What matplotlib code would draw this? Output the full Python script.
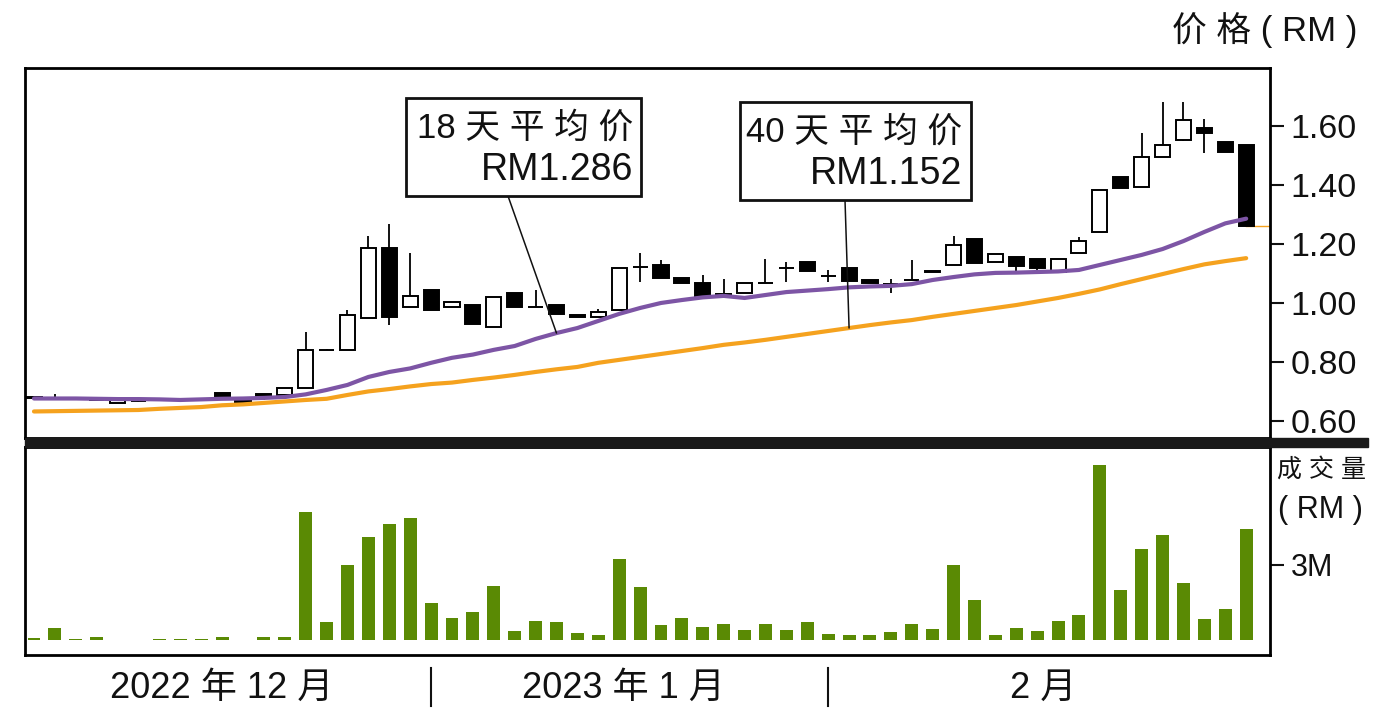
import numpy as np
import matplotlib
matplotlib.use("Agg")
import matplotlib.pyplot as plt
from matplotlib.patches import Rectangle, ConnectionPatch
import matplotlib.transforms as mtransforms

plt.rcParams['font.family'] = ['Liberation Sans', 'Noto Sans CJK SC', 'DejaVu Sans']

# daily candles (RM)
opens = [0.680, 0.678, 0.676, 0.671, 0.662, 0.668, 0.675, 0.670, 0.675, 0.694,
         0.671, 0.692, 0.688, 0.712, 0.841, 0.841, 0.948, 1.188, 0.987, 1.044,
         0.988, 0.993, 0.918, 1.033, 0.988, 0.993, 0.959, 0.954, 0.976, 1.123,
         1.129, 1.084, 1.069, 1.027, 1.033, 1.069, 1.118, 1.138, 1.092, 1.118,
         1.078, 1.064, 1.079, 1.105, 1.129, 1.216, 1.138, 1.157, 1.148, 1.106,
         1.169, 1.242, 1.426, 1.392, 1.496, 1.553, 1.594, 1.547, 1.536]
highs = [0.683, 0.690, 0.678, 0.673, 0.674, 0.672, 0.677, 0.674, 0.677, 0.694,
         0.671, 0.692, 0.711, 0.902, 0.843, 0.976, 1.227, 1.268, 1.170, 1.044,
         1.003, 0.993, 1.021, 1.033, 1.045, 0.993, 0.959, 0.979, 1.118, 1.168,
         1.146, 1.084, 1.095, 1.080, 1.069, 1.148, 1.140, 1.138, 1.112, 1.118,
         1.078, 1.083, 1.147, 1.107, 1.227, 1.216, 1.165, 1.157, 1.148, 1.148,
         1.225, 1.383, 1.426, 1.575, 1.680, 1.680, 1.623, 1.547, 1.536]
lows = [0.677, 0.670, 0.674, 0.666, 0.661, 0.664, 0.673, 0.666, 0.673, 0.683,
        0.661, 0.672, 0.688, 0.712, 0.839, 0.841, 0.948, 0.925, 0.987, 0.976,
        0.988, 0.928, 0.918, 0.988, 0.988, 0.963, 0.954, 0.954, 0.976, 1.072,
        1.084, 1.067, 1.022, 1.025, 1.033, 1.069, 1.072, 1.107, 1.072, 1.075,
        1.067, 1.034, 1.079, 1.105, 1.129, 1.137, 1.138, 1.103, 1.110, 1.106,
        1.169, 1.242, 1.391, 1.392, 1.496, 1.550, 1.510, 1.513, 1.261]
closes = [0.679, 0.679, 0.676, 0.670, 0.671, 0.668, 0.675, 0.670, 0.675, 0.683,
          0.661, 0.685, 0.711, 0.841, 0.841, 0.959, 1.188, 0.951, 1.024, 0.976,
          1.003, 0.928, 1.021, 0.988, 0.988, 0.963, 0.954, 0.968, 1.118, 1.123,
          1.084, 1.067, 1.022, 1.029, 1.069, 1.069, 1.118, 1.107, 1.092, 1.075,
          1.067, 1.064, 1.079, 1.107, 1.197, 1.137, 1.165, 1.126, 1.118, 1.148,
          1.210, 1.383, 1.391, 1.494, 1.535, 1.620, 1.578, 1.513, 1.261]

ma18 = [0.676, 0.676, 0.676, 0.675, 0.674, 0.674, 0.673, 0.671, 0.673, 0.675,
        0.676, 0.678, 0.681, 0.690, 0.705, 0.722, 0.749, 0.766, 0.778, 0.797,
        0.814, 0.825, 0.841, 0.854, 0.878, 0.898, 0.915, 0.939, 0.963, 0.983,
        1.000, 1.010, 1.019, 1.024, 1.017, 1.027, 1.037, 1.042, 1.047, 1.053,
        1.056, 1.058, 1.064, 1.078, 1.088, 1.097, 1.102, 1.103, 1.105, 1.107,
        1.112, 1.129, 1.146, 1.163, 1.183, 1.210, 1.241, 1.270, 1.286]
ma40 = [0.632, 0.633, 0.634, 0.635, 0.636, 0.637, 0.641, 0.644, 0.647, 0.653,
        0.656, 0.661, 0.666, 0.671, 0.675, 0.688, 0.700, 0.708, 0.717, 0.725,
        0.730, 0.739, 0.747, 0.756, 0.766, 0.775, 0.783, 0.797, 0.807, 0.817,
        0.827, 0.837, 0.847, 0.858, 0.866, 0.875, 0.885, 0.895, 0.905, 0.915,
        0.925, 0.934, 0.942, 0.953, 0.963, 0.973, 0.983, 0.993, 1.005, 1.017,
        1.031, 1.046, 1.064, 1.081, 1.098, 1.115, 1.131, 1.142, 1.152]

# volume (million RM)
volume = [0.07, 0.47, 0.05, 0.12, 0.0, 0.0, 0.05, 0.05, 0.05, 0.12,
          0.0, 0.12, 0.12, 5.11, 0.71, 3.00, 4.11, 4.64, 4.87, 1.47,
          0.89, 1.12, 2.17, 0.36, 0.76, 0.71, 0.29, 0.19, 3.24, 2.12,
          0.60, 0.89, 0.53, 0.65, 0.41, 0.65, 0.41, 0.72, 0.25, 0.19,
          0.19, 0.31, 0.65, 0.43, 3.00, 1.59, 0.19, 0.47, 0.36, 0.76,
          1.00, 7.00, 2.00, 3.64, 4.21, 2.29, 0.83, 1.24, 4.45]

price_ticks = [0.60, 0.80, 1.00, 1.20, 1.40, 1.60]
month_labels = ['2022 年 12 月', '2023 年 1 月', '2 月']
month_starts = [19, 38]

W, H = 1380, 715
fig = plt.figure(figsize=(W / 100, H / 100), dpi=100)

def box(l, t, r, b):
    return [l / W, 1 - b / H, (r - l) / W, (b - t) / H]

ax = fig.add_axes(box(25, 68, 1270, 438))
axv = fig.add_axes(box(25, 447, 1270, 655))

x = np.arange(len(opens))
o = np.array(opens)
c = np.array(closes)
up = c >= o
xlim = (-0.43, 59.14)

ax.vlines(x, lows, highs, color='black', linewidth=1.3, zorder=1)
ax.bar(x, np.abs(c - o), bottom=np.minimum(o, c), width=0.72,
       color=np.where(up, 'white', 'black'), edgecolor='black',
       linewidth=1.4, zorder=2)
ax.plot(x, ma18, color='#7d55a5', linewidth=3, zorder=3, solid_capstyle='round')
ax.plot(x, ma40, color='#f5a21e', linewidth=3, zorder=3, solid_capstyle='round')
ax.plot([x[-1], xlim[1]], [closes[-1], closes[-1]], color='#f5a21e', linewidth=1, zorder=1)

ax.set_xlim(xlim)
ax.set_ylim(0.542, 1.797)
ax.set_xticks([])
ax.yaxis.tick_right()
ax.set_yticks(price_ticks)
ax.set_yticklabels(['%.2f' % v for v in price_ticks])
ax.tick_params(axis='y', direction='out', length=10, width=1.5, pad=5,
               labelsize=24.5, colors='#111111')
for s in ax.spines.values():
    s.set_linewidth(2)

axv.bar(x, volume, width=0.62, color='#5a8a04', zorder=2)
axv.set_xlim(xlim)
axv.set_ylim(-0.6, 7.72)
axv.set_xticks([])
axv.yaxis.tick_right()
axv.set_yticks([3])
axv.set_yticklabels(['3M'])
axv.tick_params(axis='y', direction='out', length=10, width=1.5, pad=5,
                labelsize=22, colors='#111111')
for s in axv.spines.values():
    s.set_linewidth(2)

# thick separator bar
fig.add_artist(Rectangle((25 / W, 1 - 447 / H), (1368 - 25) / W, 9 / H,
                         transform=fig.transFigure, color='#1a1a1a'))

def ftext(px, py, s, **kw):
    fig.text(px / W, 1 - py / H, s, **kw)

ftext(1357, 30, '价 格 ( RM )', ha='right', va='center', fontsize=25, color='#111111')
ftext(1366, 470, '成 交 量', ha='right', va='center', fontsize=18, color='#111111')
ftext(1363, 510, '( RM )', ha='right', va='center', fontsize=22, color='#111111')

# MA annotation boxes
boxes = [((406, 98, 641, 196), 633, '18 天 平 均 价', 'RM%.3f' % ma18[-1], 508, 25, ma18),
         ((740, 102, 971, 200), 962, '40 天 平 均 价', 'RM%.3f' % ma40[-1], 845, 39, ma40)]
for (l, t, r, b), tx, l1, l2, lx, idx, ser in boxes:
    fig.add_artist(Rectangle((l / W, 1 - b / H), (r - l) / W, (b - t) / H,
                             transform=fig.transFigure, facecolor='white',
                             edgecolor='#111111', linewidth=2, zorder=5))
    ftext(tx, t + 30, l1, ha='right', va='center', fontsize=25, color='#111111', zorder=6)
    ftext(tx, t + 72, l2, ha='right', va='center', fontsize=27, color='#111111', zorder=6)
    con = ConnectionPatch(xyA=(lx / W, 1 - b / H), coordsA=fig.transFigure,
                          xyB=(idx, ser[idx]), coordsB=ax.transData,
                          color='#111111', linewidth=1.1, zorder=4)
    fig.add_artist(con)

# month labels and separators below the chart
trans = mtransforms.blended_transform_factory(ax.transData, fig.transFigure)
edges = [xlim[0]] + month_starts + [xlim[1]]
for i, lab in enumerate(month_labels):
    mid = (edges[i] + edges[i + 1]) / 2
    fig.text(mid - 0.3, 1 - 688 / H, lab, transform=trans, ha='center', va='center',
             fontsize=26, color='#111111')
for m in month_starts:
    fig.add_artist(plt.Line2D([m, m], [1 - 668 / H, 1 - 706 / H], transform=trans,
                              color='#111111', linewidth=1.5))

fig.savefig('out.png', dpi=100, facecolor='white')
